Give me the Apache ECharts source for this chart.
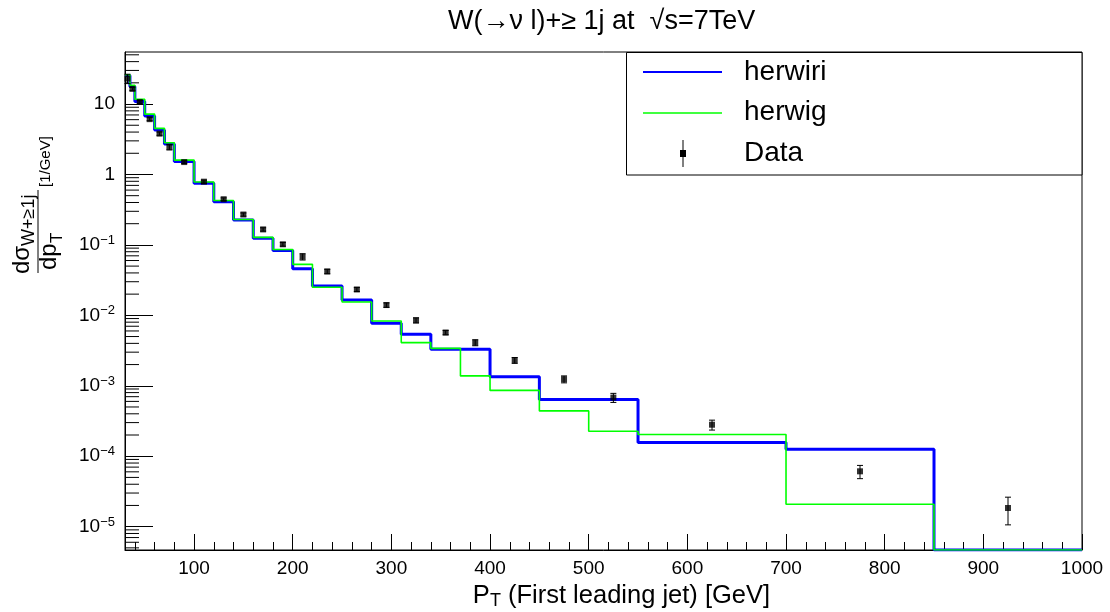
<!DOCTYPE html>
<html><head><meta charset="utf-8">
<script src="https://cdn.jsdelivr.net/npm/echarts@6/dist/echarts.min.js"></script>
<style>html,body{margin:0;padding:0;background:#fff}#c{width:1110px;height:612px}</style>
</head><body><div id="c"></div>
<script>
// ---- data ----
const binEdges = [30,35,40,50,60,70,80,100,120,140,160,180,200,220,250,280,310,340,370,400,450,500,550,700,850,1000];
const herwiri = [25.5,17.8,10.9,6.75,4.27,2.7,1.53,0.75,0.41,0.225,0.124,0.083,0.046,0.026,0.0165,0.0077,0.0054,0.0033,0.0033,0.00134,0.00064,0.00064,0.000157,0.000126,0];
const herwig  = [26,18.5,11.7,7.2,4.52,2.82,1.6,0.78,0.428,0.23,0.128,0.086,0.053,0.025,0.0155,0.0083,0.0041,0.0034,0.00138,0.00086,0.00044,0.000226,0.000203,0.0000208,0];
const dataPt  = [32.5,37.5,45,55,65,75,90,110,130,150,170,190,210,235,265,295,325,355,385,425,475,525,625,775,925];
const dataVal = [23,16.4,10.7,6.1,3.8,2.45,1.5,0.79,0.445,0.27,0.166,0.102,0.068,0.042,0.0233,0.014,0.0085,0.0057,0.0041,0.0023,0.00124,0.00068,0.00028,0.000061,0.0000184];
const dataErr = [3.5,0.8,0.5,0.3,0.2,0.22,0.07,0.04,0.02,0.014,0.009,0.006,0.007,0.003,0.0015,0.001,0.0007,0.0004,0.0004,0.00022,0.00014,0.0001,0.000045,0.000013,0.0000078];
const xMajorTicks = [100,200,300,400,500,600,700,800,900,1000];
const xMinorTicks = [40,60,80,120,140,160,180,220,240,260,280,320,340,360,380,420,440,460,480,520,540,560,580,620,640,660,680,720,740,760,780,820,840,860,880,920,940,960,980];
const yMinorFactors = [2,3,4,5,6,7,8,9];
const X_MIN = 30, X_MAX = 1000, Y_MIN = 4.66e-6, Y_MAX = 54.8;

const FONT = 'Liberation Sans, Arial, Helvetica, sans-serif';

function stepData(vals) {
  const out = vals.map((v, i) => [binEdges[i], Math.max(v, Y_MIN)]);
  out.push([binEdges[binEdges.length - 1], Math.max(vals[vals.length - 1], Y_MIN)]);
  return out;
}

const chart = echarts.init(document.getElementById('c'), null, {renderer: 'canvas'});

const supFmt = function (v) {
  const n = Math.round(Math.log10(v));
  if (n === 0) return '{b|1}';
  if (n === 1) return '{b|10}';
  return '{b|10}{s|' + (n < 0 ? '\u2212' : '') + Math.abs(n) + '}';
};

chart.setOption({
  animation: false,
  backgroundColor: '#fff',
  title: {
    text: 'W(\u2192\u03bd l)+\u2265 1j at  \u221as=7TeV',
    left: 443, top: 3,
    textStyle: {fontFamily: FONT, fontSize: 27, fontWeight: 'normal', color: '#000'}
  },
  grid: {left: 125, right: 28, top: 52, bottom: 62, outerBoundsMode: 'none', containLabel: false,
    show: true, borderColor: '#000', borderWidth: 1, backgroundColor: 'transparent'},
  xAxis: [{
    type: 'value', min: X_MIN, max: X_MAX, position: 'bottom',
    axisLine: {show: true, lineStyle: {color: '#000', width: 1}},
    axisTick: {show: true, inside: true, length: 16, customValues: xMajorTicks, lineStyle: {color: '#000', width: 1}},
    axisLabel: {show: true, customValues: xMajorTicks, margin: 9, fontSize: 19, color: '#000', fontFamily: FONT,
      formatter: function (v) { return String(v); }},
    splitLine: {show: false},
    name: '{a|P}{s|T}{a| (First leading jet) [GeV]}',
    nameLocation: 'middle', nameGap: 27,
    nameTextStyle: {padding: [0, 0, 0, 36], rich: {
      a: {fontFamily: FONT, fontSize: 25.5, color: '#000'},
      s: {fontFamily: FONT, fontSize: 18, color: '#000', padding: [11, 0, 0, 0]}
    }}
  }, {
    type: 'value', min: X_MIN, max: X_MAX, position: 'bottom',
    axisLine: {show: false},
    axisTick: {show: true, inside: true, length: 8, customValues: xMinorTicks, lineStyle: {color: '#000', width: 1}},
    axisLabel: {show: false},
    splitLine: {show: false}
  }],
  yAxis: {
    type: 'log', logBase: 10, min: Y_MIN, max: Y_MAX,
    axisLine: {show: true, lineStyle: {color: '#000', width: 1}},
    axisTick: {show: true, inside: true, length: 28, lineStyle: {color: '#000', width: 1}},
    axisLabel: {
      show: true, margin: 10, showMinLabel: false, showMaxLabel: false,
      formatter: supFmt,
      rich: {
        b: {fontFamily: FONT, fontSize: 19, color: '#000', lineHeight: 22},
        s: {fontFamily: FONT, fontSize: 13, color: '#000', verticalAlign: 'top', lineHeight: 13}
      }
    },
    splitLine: {show: false},
    minorTick: {show: false}
  },
  series: [
    {
      name: 'herwiri', type: 'line', step: 'end', data: stepData(herwiri),
      showSymbol: false, symbol: 'none', clip: true, z: 2,
      lineStyle: {color: '#0000ff', width: 3}
    },
    {
      name: 'herwig', type: 'line', step: 'end', data: stepData(herwig),
      showSymbol: false, symbol: 'none', clip: true, z: 3,
      lineStyle: {color: '#00ff00', width: 1.6}
    },
    {
      name: 'Data errors', type: 'custom', z: 4, silent: true,
      data: dataPt.map((p, i) => [p, dataVal[i], dataErr[i]]),
      renderItem: function (params, api) {
        const x = api.value(0), v = api.value(1), e = api.value(2);
        const t = api.coord([x, v + e]);
        const b = api.coord([x, v - e]);
        const hw = 3;
        const st = {stroke: '#000', lineWidth: 1};
        return {type: 'group', children: [
          {type: 'line', shape: {x1: t[0], y1: t[1], x2: b[0], y2: b[1]}, style: st},
          {type: 'line', shape: {x1: t[0] - hw, y1: t[1], x2: t[0] + hw, y2: t[1]}, style: st},
          {type: 'line', shape: {x1: b[0] - hw, y1: b[1], x2: b[0] + hw, y2: b[1]}, style: st}
        ]};
      }
    },
    {
      name: 'Data', type: 'scatter', z: 5, symbol: 'rect', symbolSize: 6,
      data: dataPt.map((p, i) => [p, dataVal[i]]),
      itemStyle: {color: '#000'}
    },
    {
      name: 'y minor ticks', type: 'custom', z: 1, silent: true, clip: false,
      data: [[X_MIN, 1]],
      renderItem: function (params, api) {
        const children = [];
        for (let n = -6; n <= 1; n++) {
          yMinorFactors.forEach(function (k) {
            const v = k * Math.pow(10, n);
            if (v <= Y_MIN || v >= Y_MAX) return;
            const p = api.coord([X_MIN, v]);
            children.push({type: 'line', shape: {x1: p[0], y1: p[1], x2: p[0] + 14, y2: p[1]}, style: {stroke: '#000', lineWidth: 1}});
          });
        }
        return {type: 'group', children: children};
      }
    }
  ],
  graphic: [
    {
      type: 'group', x: 38, y: 232, rotation: Math.PI / 2,
      children: [
        {type: 'line', shape: {x1: -41, y1: 0, x2: 42, y2: 0}, style: {stroke: '#000', lineWidth: 1}},
        {type: 'text', x: -42, y: -16, style: {text: 'd\u03c3', font: '24px ' + FONT, fill: '#000', align: 'left', verticalAlign: 'middle'}},
        {type: 'text', x: -14, y: -9, style: {text: 'W+\u22651j', font: '18px ' + FONT, fill: '#000', align: 'left', verticalAlign: 'middle'}},
        {type: 'text', x: -38, y: 11, style: {text: 'dp', font: '24px ' + FONT, fill: '#000', align: 'left', verticalAlign: 'middle'}},
        {type: 'text', x: -11, y: 19, style: {text: 'T', font: '17px ' + FONT, fill: '#000', align: 'left', verticalAlign: 'middle'}},
        {type: 'text', x: 45, y: 8, style: {text: '[1/GeV]', font: '15px ' + FONT, fill: '#000', align: 'left', verticalAlign: 'middle'}}
      ]
    },
    {
      type: 'group', z: 100,
      children: [
        {type: 'rect', shape: {x: 626.5, y: 52.5, width: 455.5, height: 122.5}, style: {fill: '#fff', stroke: '#000', lineWidth: 1}},
        {type: 'line', shape: {x1: 643, y1: 72, x2: 722, y2: 72}, style: {stroke: '#0000ff', lineWidth: 2}},
        {type: 'text', x: 744, y: 72, style: {text: 'herwiri', font: '28px ' + FONT, fill: '#000', verticalAlign: 'middle'}},
        {type: 'line', shape: {x1: 643, y1: 113, x2: 722, y2: 113}, style: {stroke: '#00ff00', lineWidth: 1.5}},
        {type: 'text', x: 744, y: 112, style: {text: 'herwig', font: '28px ' + FONT, fill: '#000', verticalAlign: 'middle'}},
        {type: 'line', shape: {x1: 683, y1: 140, x2: 683, y2: 167}, style: {stroke: '#000', lineWidth: 1}},
        {type: 'rect', shape: {x: 680, y: 150, width: 6, height: 7}, style: {fill: '#000'}},
        {type: 'text', x: 744, y: 153, style: {text: 'Data', font: '28px ' + FONT, fill: '#000', verticalAlign: 'middle'}}
      ]
    }
  ]
});
</script>
</body></html>
